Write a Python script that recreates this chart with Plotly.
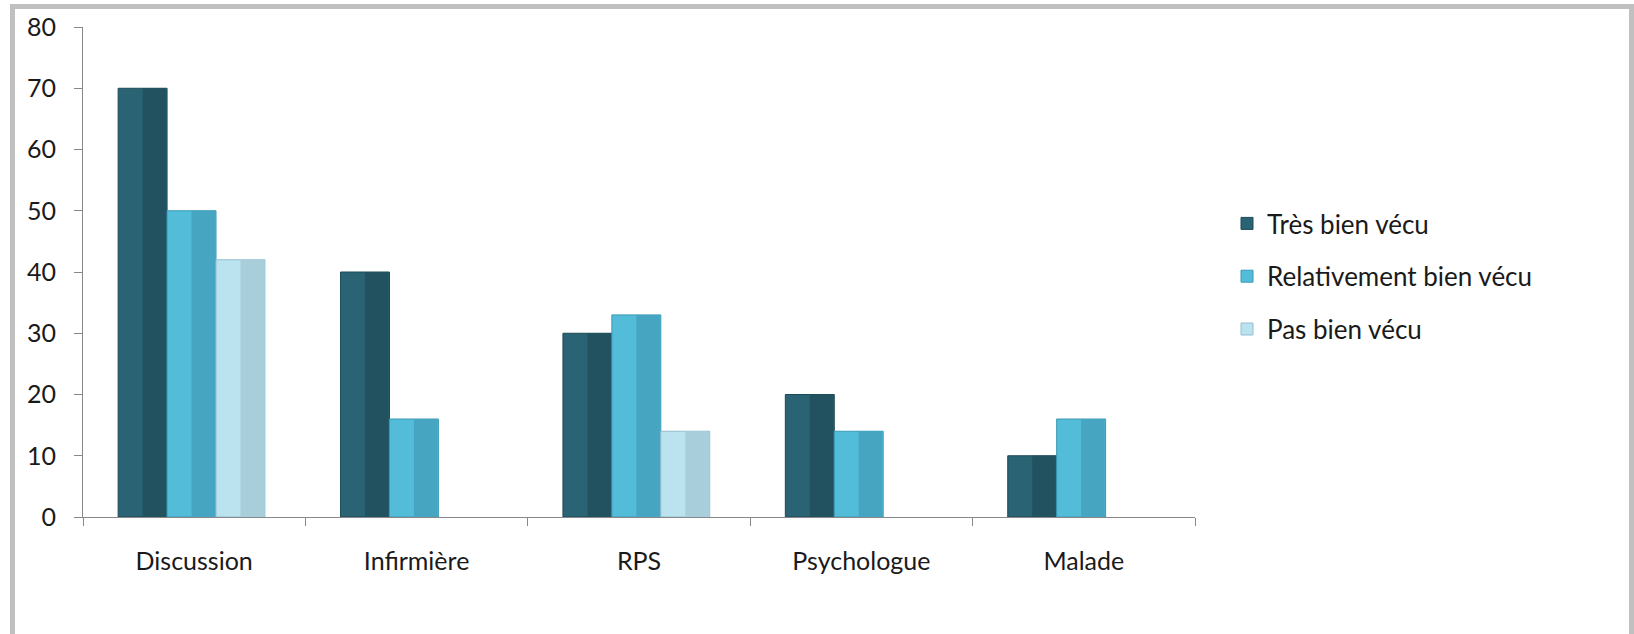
import plotly.graph_objects as go

categories = ["Discussion", "Infirmière", "RPS", "Psychologue", "Malade"]
tres_bien = [70, 40, 30, 20, 10]
relativement = [50, 16, 33, 14, 16]
pas_bien = [42, 0, 14, 0, 0]
series_names = ["Très bien vécu", "Relativement bien vécu", "Pas bien vécu"]
y_ticks = [0, 10, 20, 30, 40, 50, 60, 70, 80]

colors = ["#2a6474", "#52bcd9", "#bbe2ef"]
shade = ["#225260", "#46a5c0", "#a9cedb"]
edge = ["#1d4a57", "#3a9ab5", "#93bfcf"]

W, H = 1634, 634
L, R, T, B = 83, 1195, 27, 517
BAR_W = 0.22
GROUP_START = -0.342

fig = go.Figure()
for i, (name, vals, c, s, e) in enumerate(zip(series_names, [tres_bien, relativement, pas_bien], colors, shade, edge)):
    yv = [v if v else None for v in vals]
    fig.add_trace(go.Bar(
        x=categories, y=yv, name=name, legendgroup=name,
        width=BAR_W, offset=GROUP_START + BAR_W * i,
        marker=dict(color=c, line=dict(color=e, width=1)),
        hoverinfo="x+y+name",
    ))
    fig.add_trace(go.Bar(
        x=categories, y=yv, name=name, legendgroup=name, showlegend=False,
        width=BAR_W / 2 - 0.004, offset=GROUP_START + BAR_W * i + BAR_W / 2,
        marker=dict(color=s, line=dict(width=0)),
        hoverinfo="skip",
    ))

def px_x(p):
    return (p - L) / (R - L)

def px_y(p):
    return (B - p) / (B - T)

fig.update_layout(
    width=W, height=H,
    margin=dict(l=L, r=W - R, t=T, b=H - B),
    paper_bgcolor="white", plot_bgcolor="white",
    barmode="overlay",
    font=dict(family="Lato, Open Sans, sans-serif", size=25, color="#1a1a1a"),
    xaxis=dict(
        showline=True, linecolor="#888888", linewidth=1,
        ticks="outside", ticklen=8, tickcolor="#888888",
        tickson="boundaries", showgrid=False,
        tickfont=dict(size=25), ticklabelstandoff=22,
    ),
    yaxis=dict(
        range=[0, 80], tickvals=y_ticks,
        showline=True, linecolor="#888888", linewidth=1,
        ticks="outside", ticklen=8, tickcolor="#888888",
        showgrid=False, zeroline=False,
        tickfont=dict(size=25), ticklabelstandoff=13,
    ),
    legend=dict(
        x=px_x(1227), y=px_y(200), xanchor="left", yanchor="top",
        font=dict(size=26), tracegroupgap=16, itemwidth=30,
        bgcolor="rgba(0,0,0,0)",
    ),
    shapes=[dict(
        type="rect", xref="paper", yref="paper",
        x0=px_x(12.5), x1=px_x(1631.5), y0=px_y(660), y1=px_y(6.5),
        line=dict(color="#c0c0c0", width=5), fillcolor="rgba(0,0,0,0)",
        layer="above",
    )],
)

fig.write_html("out.html", config={"displayModeBar": False})
with open("out.html", encoding="utf-8") as f:
    html = f.read()
html = html.replace("<head>", "<head><style>html,body{margin:0;padding:0;overflow:hidden;}</style>", 1)
with open("out.html", "w", encoding="utf-8") as f:
    f.write(html)
